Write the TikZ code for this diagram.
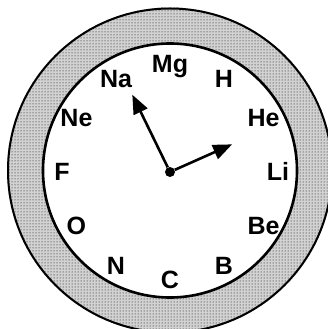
\documentclass[tikz,border=0pt]{standalone}
\usepackage{fontspec}
\setmainfont{Liberation Sans}
\usetikzlibrary{arrows.meta,patterns}
\begin{document}
\begin{tikzpicture}[x=1pt,y=1pt,
    elem/.style={font=\fontsize{25}{25}\selectfont\bfseries,inner sep=0pt,text height=18pt,text depth=0pt},
    hand/.style={line width=2.6pt,-{Triangle[length=19pt,width=15pt]}}]
  \useasboundingbox (0,0) rectangle (328,329);
  \clip (0,0) rectangle (328,329);
  \begin{scope}[shift={(170,157)}]
    % stippled rim
    \fill[gray!35,even odd rule] (0,1.5) circle (163) (0,1.5) circle (127);
    \fill[pattern=dots,even odd rule] (0,1.5) circle (163) (0,1.5) circle (127);
    \draw[line width=2pt] (0,1.5) circle (162);
    \draw[line width=2.6pt] (0,1.5) circle (127);
    \foreach \a/\txt in {90/Mg,60/H,30/He,0/Li,-30/Be,-60/B,-90/C,-120/N,-150/O,180/F,150/Ne,120/Na} {
      \node[elem] (\txt) at (\a:108) {\txt};
    }
    \node[circle,fill,inner sep=0pt,minimum size=10pt] (c) at (0,0) {};
    \coordinate (long) at (116:86);
    \coordinate (short) at (24:68);
    \draw[hand] (c) -- (long);
    \draw[hand] (c) -- (short);
  \end{scope}
\end{tikzpicture}
\end{document}
